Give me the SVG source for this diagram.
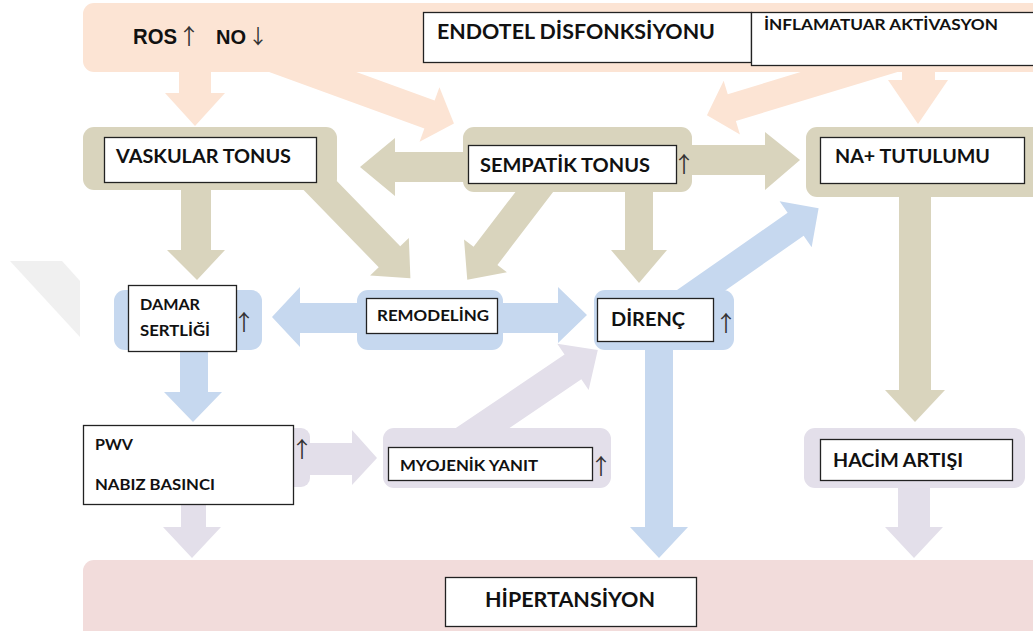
<svg xmlns="http://www.w3.org/2000/svg" width="1033" height="631" viewBox="0 0 1033 631">
<style>
.peach{fill:#fce4d4}
.olive{fill:#d9d4bd}
.blue{fill:#c6d8ef}
.lav{fill:#e3dfea}
.pink{fill:#f2dcdb}
.box{fill:#ffffff;stroke:#222222;stroke-width:1.3}
.t{font-family:Lato,"Open Sans","Liberation Sans",sans-serif;font-weight:700;fill:#111111}
.ar{font-family:"Noto Sans CJK JP","Liberation Sans",sans-serif;font-weight:400;fill:#333333;text-anchor:middle}
.ros{font-family:"Liberation Sans",Arial,sans-serif;font-weight:700;fill:#111111}
</style>
<rect width="1033" height="631" fill="#ffffff"/>
<polygon points="10,261 62,261 80,281 80,337" fill="#f0f0f0"/>
<g id="connectors">
<polygon class="peach" points="179,60 211,60 211,93 225,93 195,126 165,93 179,93"/>
<polygon class="peach" points="902,60 935,60 935,80 948,80 918,124 888,80 902,80"/>
<polygon class="peach" transform="translate(266,55) rotate(20)" points="0,-15 174,-15 174,-29 200,0 174,29 174,15 0,15"/>
<polygon class="peach" transform="translate(905,55) rotate(163.1)" points="0,-14 181,-14 181,-28 207,0 181,28 181,14 0,14"/>
<polygon class="olive" points="470,152 395,152 395,138 360,167 395,196 395,182 470,182"/>
<polygon class="olive" points="685,145 765,145 765,132 800,160 765,190 765,175 685,175"/>
<polygon class="olive" points="181,180 211,180 211,250 225,250 197,280 167,250 181,250"/>
<polygon class="olive" transform="translate(310,175) rotate(45.8)" points="0,-15 114,-15 114,-27 144,0 114,27 114,15 0,15"/>
<polygon class="olive" transform="translate(545,178) rotate(127.4)" points="0,-15 98,-15 98,-27 128,0 98,27 98,15 0,15"/>
<polygon class="olive" points="625,185 653,185 653,250 667,250 639,283 611,250 625,250"/>
<polygon class="olive" points="899,190 931,190 931,390 945,390 915,422 885,390 899,390"/>
<polygon class="blue" points="360,303 300,303 300,287 272,317 300,347 300,333 360,333"/>
<polygon class="blue" points="500,303 558,303 558,287 587,315 558,343 558,333 500,333"/>
<polygon class="blue" transform="translate(680,305) rotate(-34.9)" points="0,-14 141,-14 141,-28 169,0 141,28 141,14 0,14"/>
<polygon class="blue" points="180,345 208,345 208,392 222,392 193,422 164,392 180,392"/>
<polygon class="blue" points="645,345 673,345 673,527 688,527 659,558 630,527 645,527"/>
<polygon class="lav" points="305,443 352,443 352,430 377,458 352,485 352,475 305,475"/>
<polygon class="lav" transform="translate(462,442) rotate(-34.1)" points="0,-15 134,-15 134,-28 164,0 134,28 134,15 0,15"/>
<polygon class="lav" points="181,500 206,500 206,527 221,527 192,558 163,527 181,527"/>
<polygon class="lav" points="898,485 930,485 930,527 943,527 914,558 885,527 898,527"/>
</g>
<g id="node-top">
<rect class="peach" x="83" y="3" width="970" height="69" rx="11"/>
<text class="ros" font-size="22" y="44"><tspan x="133" textLength="44" lengthAdjust="spacingAndGlyphs">ROS</tspan><tspan class="ar" x="189" font-size="22">↑</tspan><tspan x="216" font-size="20">NO</tspan><tspan class="ar" x="258" font-size="20">↓</tspan></text>
</g>
<g id="node-endotel">
<rect class="box" x="423.5" y="12.5" width="328" height="50"/>
<text class="t" x="437" y="39" font-size="20" textLength="278" lengthAdjust="spacingAndGlyphs">ENDOTEL DİSFONKSİYONU</text>
</g>
<g id="node-inflamatuar">
<rect class="box" x="751.5" y="12.5" width="290" height="53"/>
<text class="t" x="764" y="30" font-size="15" textLength="234" lengthAdjust="spacingAndGlyphs">İNFLAMATUAR AKTİVASYON</text>
</g>
<g id="node-vaskular">
<rect class="olive" x="83" y="127" width="254" height="63" rx="11"/>
<rect class="box" x="104.5" y="137.5" width="212" height="45"/>
<text class="t" x="116" y="163" font-size="19" textLength="175" lengthAdjust="spacingAndGlyphs">VASKULAR TONUS</text>
</g>
<g id="node-sempatik">
<rect class="olive" x="463" y="127" width="229" height="65" rx="11"/>
<rect class="box" x="468.5" y="145.5" width="208" height="38"/>
<text class="t" x="480" y="172" font-size="19" textLength="170" lengthAdjust="spacingAndGlyphs">SEMPATİK TONUS</text>
<text class="ar" x="684" y="172" font-size="22">↑</text>
</g>
<g id="node-na">
<rect class="olive" x="806" y="127" width="250" height="70" rx="11"/>
<rect class="box" x="820.5" y="137.5" width="204" height="46"/>
<text class="t" x="835" y="163" font-size="19" textLength="155" lengthAdjust="spacingAndGlyphs">NA+ TUTULUMU</text>
</g>
<g id="node-damar">
<rect class="blue" x="114" y="290" width="148" height="60" rx="11"/>
<rect class="box" x="128.5" y="285.5" width="108" height="66"/>
<text class="t" x="140" y="310" font-size="16" textLength="60" lengthAdjust="spacingAndGlyphs">DAMAR</text>
<text class="t" x="140" y="336" font-size="16" textLength="70" lengthAdjust="spacingAndGlyphs">SERTLİĞİ</text>
<text class="ar" x="244" y="330" font-size="22">↑</text>
</g>
<g id="node-remodeling">
<rect class="blue" x="357" y="290" width="146" height="60" rx="11"/>
<rect class="box" x="366.5" y="298.5" width="131" height="35"/>
<text class="t" x="377" y="321" font-size="16" textLength="112" lengthAdjust="spacingAndGlyphs">REMODELİNG</text>
</g>
<g id="node-direnc">
<rect class="blue" x="594" y="290" width="140" height="60" rx="11"/>
<rect class="box" x="597.5" y="298.5" width="116" height="43"/>
<text class="t" x="611" y="326" font-size="19" textLength="74" lengthAdjust="spacingAndGlyphs">DİRENÇ</text>
<text class="ar" x="726" y="331" font-size="22">↑</text>
</g>
<g id="node-pwv">
<rect class="lav" x="270" y="428" width="40" height="59" rx="9"/>
<rect class="box" x="83.5" y="425.5" width="210" height="79"/>
<text class="t" x="95" y="450" font-size="15" textLength="38" lengthAdjust="spacingAndGlyphs">PWV</text>
<text class="t" x="95" y="490" font-size="15" textLength="120" lengthAdjust="spacingAndGlyphs">NABIZ BASINCI</text>
<text class="ar" x="302" y="457" font-size="22">↑</text>
</g>
<g id="node-myojenik">
<rect class="lav" x="383" y="428" width="228" height="60" rx="11"/>
<rect class="box" x="388.5" y="447.5" width="204" height="33"/>
<text class="t" x="400" y="471" font-size="15" textLength="138" lengthAdjust="spacingAndGlyphs">MYOJENİK YANIT</text>
<text class="ar" x="601" y="474" font-size="22">↑</text>
</g>
<g id="node-hacim">
<rect class="lav" x="804" y="428" width="221" height="60" rx="11"/>
<rect class="box" x="820.5" y="439.5" width="192" height="41"/>
<text class="t" x="833" y="467" font-size="19" textLength="130" lengthAdjust="spacingAndGlyphs">HACİM ARTIŞI</text>
</g>
<g id="node-hipertansiyon">
<rect class="pink" x="83" y="560" width="970" height="90" rx="11"/>
<rect class="box" x="445.5" y="577.5" width="251" height="49"/>
<text class="t" x="485" y="607" font-size="21" textLength="170" lengthAdjust="spacingAndGlyphs">HİPERTANSİYON</text>
</g>
</svg>
